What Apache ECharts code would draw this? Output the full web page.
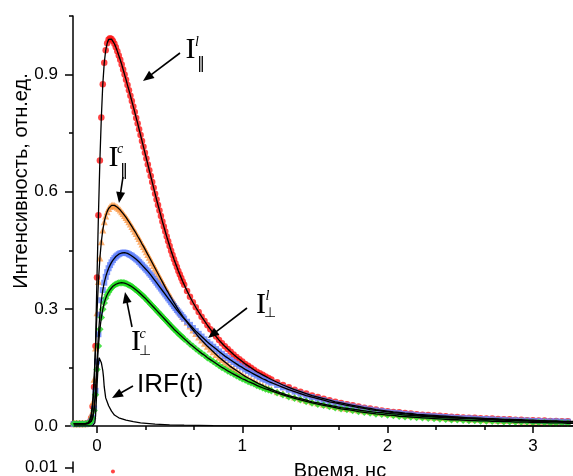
<!DOCTYPE html>
<html>
<head>
<meta charset="utf-8">
<script src="https://cdn.jsdelivr.net/npm/echarts@6/dist/echarts.min.js"></script>
<style>
  html, body { margin: 0; padding: 0; background: #fff; }
  #chart { width: 573px; height: 476px; }
</style>
</head>
<body>
<div id="chart"></div>
<script>
// Time channels, ns
const timeNs = [
  -0.16, -0.14, -0.12, -0.10, -0.08, -0.06,
  -0.05, -0.04, -0.03, -0.02, -0.01,
  0.00, 0.01, 0.02, 0.03, 0.04, 0.05, 0.06, 0.07, 0.08, 0.09,
  0.10, 0.11, 0.12, 0.13, 0.14, 0.15, 0.16, 0.17, 0.18, 0.19,
  0.20, 0.21, 0.22, 0.23, 0.24, 0.25, 0.26, 0.27, 0.28, 0.29,
  0.30, 0.31, 0.32, 0.33, 0.34, 0.35, 0.36, 0.37, 0.38, 0.39,
  0.40, 0.41, 0.42, 0.43, 0.44, 0.45, 0.46, 0.47, 0.48, 0.49,
  0.50, 0.51, 0.52, 0.53, 0.54, 0.55, 0.56, 0.57, 0.58, 0.59,
  0.60,
  0.62, 0.64, 0.66, 0.68, 0.70,
  0.72, 0.74, 0.76, 0.78, 0.80,
  0.82, 0.84, 0.86, 0.88, 0.90,
  0.92, 0.94, 0.96, 0.98, 1.00,
  1.02, 1.04, 1.06, 1.08, 1.10,
  1.12, 1.14, 1.16, 1.18, 1.20,
  1.24, 1.28, 1.32, 1.36, 1.40,
  1.44, 1.48, 1.52, 1.56, 1.60,
  1.64, 1.68, 1.72, 1.76, 1.80,
  1.84, 1.88, 1.92, 1.96, 2.00,
  2.04, 2.08, 2.12, 2.16, 2.20,
  2.24, 2.28, 2.32, 2.36, 2.40,
  2.44, 2.48, 2.52, 2.56, 2.60,
  2.64, 2.68, 2.72, 2.76, 2.80,
  2.84, 2.88, 2.92, 2.96, 3.00,
  3.04, 3.08, 3.12, 3.16, 3.20,
  3.24, 3.28, 3.32, 3.36, 3.40
];

// I parallel, linear (red circles)
const iParLin = [
  0.006, 0.006, 0.006, 0.006, 0.006, 0.007,
  0.010, 0.020, 0.050, 0.100, 0.205,
  0.380, 0.540, 0.680, 0.790, 0.875, 0.930, 0.962, 0.980, 0.990, 0.993,
  0.991, 0.986, 0.979, 0.970, 0.960, 0.949, 0.938, 0.926, 0.913, 0.900,
  0.887, 0.873, 0.860, 0.846, 0.832, 0.818, 0.804, 0.789, 0.775, 0.760,
  0.745, 0.730, 0.715, 0.700, 0.685, 0.670, 0.655, 0.640, 0.625, 0.610,
  0.595, 0.580, 0.566, 0.552, 0.538, 0.524, 0.511, 0.498, 0.485, 0.473,
  0.461, 0.449, 0.438, 0.427, 0.417, 0.407, 0.397, 0.388, 0.379, 0.370,
  0.362,
  0.346, 0.331, 0.317, 0.304, 0.292,
  0.280, 0.269, 0.258, 0.248, 0.238,
  0.229, 0.220, 0.212, 0.204, 0.197,
  0.190, 0.183, 0.177, 0.171, 0.165,
  0.159, 0.154, 0.149, 0.144, 0.139,
  0.135, 0.131, 0.127, 0.123, 0.119,
  0.112, 0.105, 0.099, 0.093, 0.088,
  0.083, 0.078, 0.074, 0.070, 0.066,
  0.062, 0.059, 0.056, 0.053, 0.050,
  0.047, 0.045, 0.042, 0.040, 0.038,
  0.036, 0.035, 0.033, 0.032, 0.030,
  0.029, 0.028, 0.027, 0.026, 0.025,
  0.024, 0.023, 0.022, 0.021, 0.021,
  0.020, 0.019, 0.019, 0.018, 0.017,
  0.017, 0.016, 0.016, 0.015, 0.015,
  0.014, 0.014, 0.013, 0.013, 0.012,
  0.012, 0.012, 0.011, 0.011, 0.011
];

// I parallel, circular (orange triangles)
const iParCirc = [
  0.006, 0.006, 0.006, 0.006, 0.006, 0.008,
  0.015, 0.030, 0.060, 0.120, 0.200,
  0.290, 0.370, 0.430, 0.472, 0.502, 0.523, 0.538, 0.549, 0.557, 0.562,
  0.565, 0.566, 0.565, 0.563, 0.560, 0.557, 0.553, 0.549, 0.544, 0.539,
  0.534, 0.529, 0.523, 0.517, 0.511, 0.505, 0.499, 0.493, 0.486, 0.480,
  0.473, 0.466, 0.460, 0.453, 0.446, 0.439, 0.432, 0.425, 0.418, 0.411,
  0.404, 0.397, 0.390, 0.383, 0.376, 0.369, 0.362, 0.355, 0.348, 0.342,
  0.335, 0.329, 0.322, 0.316, 0.310, 0.304, 0.298, 0.292, 0.287, 0.281,
  0.276,
  0.266, 0.256, 0.246, 0.237, 0.228,
  0.220, 0.212, 0.204, 0.197, 0.190,
  0.183, 0.176, 0.170, 0.164, 0.158,
  0.152, 0.147, 0.142, 0.137, 0.132,
  0.127, 0.123, 0.119, 0.115, 0.111,
  0.107, 0.104, 0.100, 0.097, 0.094,
  0.088, 0.083, 0.078, 0.074, 0.070,
  0.066, 0.062, 0.059, 0.056, 0.053,
  0.050, 0.047, 0.045, 0.043, 0.041,
  0.039, 0.037, 0.035, 0.034, 0.032,
  0.031, 0.030, 0.028, 0.027, 0.026,
  0.025, 0.024, 0.023, 0.022, 0.021,
  0.020, 0.020, 0.019, 0.018, 0.018,
  0.017, 0.016, 0.016, 0.015, 0.015,
  0.014, 0.014, 0.013, 0.013, 0.012,
  0.012, 0.011, 0.011, 0.011, 0.010,
  0.010, 0.010, 0.009, 0.009, 0.009
];

// I perpendicular, linear (blue squares)
const iPerpLin = [
  0.005, 0.005, 0.005, 0.005, 0.005, 0.006,
  0.008, 0.012, 0.022, 0.045, 0.090,
  0.165, 0.235, 0.285, 0.322, 0.348, 0.367, 0.382, 0.394, 0.404, 0.412,
  0.419, 0.425, 0.430, 0.434, 0.437, 0.440, 0.442, 0.443, 0.444, 0.444,
  0.443, 0.442, 0.440, 0.438, 0.436, 0.433, 0.430, 0.427, 0.424, 0.420,
  0.416, 0.412, 0.408, 0.404, 0.400, 0.396, 0.391, 0.387, 0.382, 0.377,
  0.372, 0.367, 0.362, 0.357, 0.352, 0.347, 0.342, 0.337, 0.332, 0.327,
  0.322, 0.317, 0.312, 0.307, 0.302, 0.297, 0.293, 0.288, 0.284, 0.279,
  0.275,
  0.267, 0.259, 0.251, 0.243, 0.236,
  0.229, 0.222, 0.215, 0.209, 0.203,
  0.197, 0.191, 0.185, 0.179, 0.174,
  0.169, 0.164, 0.159, 0.154, 0.150,
  0.145, 0.141, 0.137, 0.133, 0.129,
  0.125, 0.121, 0.118, 0.114, 0.111,
  0.105, 0.099, 0.093, 0.088, 0.083,
  0.078, 0.074, 0.070, 0.066, 0.062,
  0.059, 0.056, 0.053, 0.050, 0.047,
  0.045, 0.042, 0.040, 0.038, 0.036,
  0.034, 0.033, 0.031, 0.030, 0.028,
  0.027, 0.026, 0.025, 0.024, 0.023,
  0.022, 0.021, 0.020, 0.020, 0.019,
  0.018, 0.018, 0.017, 0.016, 0.016,
  0.015, 0.015, 0.014, 0.014, 0.013,
  0.013, 0.012, 0.012, 0.012, 0.011,
  0.011, 0.011, 0.010, 0.010, 0.010
];

// I perpendicular, circular (green diamonds)
const iPerpCirc = [
  0.006, 0.006, 0.006, 0.006, 0.006, 0.007,
  0.008, 0.012, 0.020, 0.040, 0.080,
  0.145, 0.205, 0.248, 0.278, 0.299, 0.315, 0.327, 0.336, 0.343, 0.349,
  0.354, 0.358, 0.361, 0.363, 0.365, 0.366, 0.367, 0.367, 0.367, 0.366,
  0.365, 0.363, 0.361, 0.359, 0.357, 0.354, 0.351, 0.348, 0.345, 0.342,
  0.339, 0.335, 0.332, 0.328, 0.324, 0.320, 0.316, 0.312, 0.308, 0.304,
  0.300, 0.296, 0.292, 0.288, 0.284, 0.280, 0.276, 0.272, 0.268, 0.264,
  0.260, 0.256, 0.252, 0.248, 0.245, 0.241, 0.237, 0.234, 0.230, 0.227,
  0.223,
  0.217, 0.210, 0.204, 0.198, 0.192,
  0.186, 0.181, 0.175, 0.170, 0.165,
  0.160, 0.155, 0.150, 0.146, 0.141,
  0.137, 0.133, 0.129, 0.125, 0.121,
  0.118, 0.114, 0.111, 0.108, 0.104,
  0.101, 0.098, 0.095, 0.093, 0.090,
  0.085, 0.080, 0.075, 0.071, 0.067,
  0.063, 0.059, 0.056, 0.053, 0.050,
  0.047, 0.044, 0.042, 0.040, 0.037,
  0.035, 0.033, 0.031, 0.030, 0.028,
  0.027, 0.025, 0.024, 0.023, 0.022,
  0.021, 0.020, 0.019, 0.018, 0.017,
  0.016, 0.016, 0.015, 0.014, 0.014,
  0.013, 0.013, 0.012, 0.012, 0.011,
  0.011, 0.010, 0.010, 0.010, 0.009,
  0.009, 0.009, 0.008, 0.008, 0.008,
  0.007, 0.007, 0.007, 0.007, 0.006
];

// Instrument response function
const irfTime = [
  -0.16, -0.05, -0.03, -0.02, -0.015, -0.01, -0.005, 0.00, 0.005, 0.01,
  0.015, 0.02, 0.025, 0.03, 0.035, 0.04, 0.045, 0.05, 0.06, 0.07,
  0.08, 0.10, 0.12, 0.15, 0.20, 0.25, 0.30, 0.40, 0.50, 0.60,
  0.80, 1.00, 1.50, 3.40
];
const irfValue = [
  0, 0, 0.001, 0.003, 0.008, 0.025, 0.060, 0.100, 0.135, 0.160,
  0.175, 0.178, 0.172, 0.162, 0.152, 0.142, 0.125, 0.100, 0.072, 0.062,
  0.052, 0.038, 0.028, 0.021, 0.015, 0.011, 0.008, 0.005, 0.003, 0.002,
  0.001, 0.0005, 0, 0
];

// Lower (residual) panel
const residTime = [0.11];
const residValue = [0.0058];

// Axis ticks
const xTicks = [0, 1, 2, 3];
const xMinorTicks = [0.3333, 0.6667, 1.3333, 1.6667, 2.3333, 2.6667];
const yTicks = [0, 0.3, 0.6, 0.9];
const yMinorTicks = [0.15, 0.45, 0.75, 1.05];
const residTicks = [0.01];

const X_MIN = -0.165, X_MAX = 3.276;
const SANS = "'Liberation Sans', Arial, sans-serif";
const SERIF = "'Liberation Serif', 'Times New Roman', serif";

const pairs = (xs, ys) => xs.map((x, i) => [x, ys[i]]);

const chart = echarts.init(document.getElementById('chart'), null, { renderer: 'canvas' });

const scatter = (name, vals, symbol, size, color) => ({
  name, type: 'scatter', xAxisIndex: 0, yAxisIndex: 0,
  data: pairs(timeNs, vals), symbol, symbolSize: size,
  itemStyle: { color }, z: 2, silent: true
});
const fit = (name, xs, vals) => ({
  name, type: 'line', xAxisIndex: 0, yAxisIndex: 0,
  data: pairs(xs, vals), showSymbol: false, symbol: 'none',
  lineStyle: { color: '#000', width: 1.3 }, z: 4, silent: true
});

const axisLineStyle = { color: '#000', width: 1.5 };
const hiddenLine = { color: 'rgba(0,0,0,0)', width: 1 };
const mainGrid = { left: 73, top: 16, width: 500, height: 410 };

chart.setOption({
  animation: false,
  backgroundColor: '#fff',
  grid: [
    mainGrid,
    { left: 73, top: 462, width: 500, height: 14 },
    // same rectangle as the main plot, carries the minor ticks
    Object.assign({}, mainGrid)
  ],
  xAxis: [
    {
      type: 'value', gridIndex: 0, min: X_MIN, max: X_MAX, position: 'bottom',
      axisLine: { show: true, onZero: false, lineStyle: axisLineStyle },
      axisTick: { show: true, inside: false, length: 7, customValues: xTicks, lineStyle: axisLineStyle },
      axisLabel: { show: true, customValues: xTicks, margin: 12, color: '#000', fontSize: 17, fontFamily: SANS,
                   formatter: v => String(Math.round(v)) },
      splitLine: { show: false }
    },
    { type: 'value', gridIndex: 1, min: X_MIN, max: X_MAX, show: false },
    {
      type: 'value', gridIndex: 2, min: X_MIN, max: X_MAX, position: 'bottom',
      axisLine: { show: true, onZero: false, lineStyle: hiddenLine },
      axisTick: { show: true, inside: false, length: 4, customValues: xMinorTicks, lineStyle: axisLineStyle },
      axisLabel: { show: false },
      splitLine: { show: false }
    }
  ],
  yAxis: [
    {
      type: 'value', gridIndex: 0, min: 0, max: 1.05, position: 'left',
      axisLine: { show: true, onZero: false, lineStyle: axisLineStyle },
      axisTick: { show: true, inside: false, length: 8, customValues: yTicks, lineStyle: axisLineStyle },
      axisLabel: { show: true, customValues: yTicks, margin: 15, color: '#000', fontSize: 17, fontFamily: SANS,
                   formatter: v => v.toFixed(1) },
      splitLine: { show: false }
    },
    {
      type: 'value', gridIndex: 1, min: 0.005, max: 0.0158, position: 'left',
      axisLine: { show: true, onZero: false, lineStyle: axisLineStyle },
      axisTick: { show: true, inside: false, length: 8, customValues: residTicks, lineStyle: axisLineStyle },
      axisLabel: { show: true, customValues: residTicks, margin: 15, color: '#000', fontSize: 17, fontFamily: SANS,
                   formatter: v => v.toFixed(2) },
      splitLine: { show: false }
    },
    {
      type: 'value', gridIndex: 2, min: 0, max: 1.05, position: 'left',
      axisLine: { show: true, onZero: false, lineStyle: hiddenLine },
      axisTick: { show: true, inside: false, length: 4, customValues: yMinorTicks, lineStyle: axisLineStyle },
      axisLabel: { show: false },
      splitLine: { show: false }
    }
  ],
  series: [
    scatter('I∥ l', iParLin, 'circle', 6.5, '#ff1414'),
    scatter('I∥ c', iParCirc, 'triangle', 7, '#fb9b4a'),
    scatter('I⊥ l', iPerpLin, 'rect', 6, '#5f7ffb'),
    scatter('I⊥ c', iPerpCirc, 'diamond', 7.5, '#22dc22'),
    fit('fit I∥ l', timeNs, iParLin),
    fit('fit I∥ c', timeNs, iParCirc),
    fit('fit I⊥ l', timeNs, iPerpLin),
    fit('fit I⊥ c', timeNs, iPerpCirc),
    fit('IRF', irfTime, irfValue),
    {
      name: 'residual', type: 'scatter', xAxisIndex: 1, yAxisIndex: 1,
      data: pairs(residTime, residValue), symbol: 'circle', symbolSize: 4,
      itemStyle: { color: '#ff1414' }, silent: true, clip: false
    }
  ]
});

// Annotations: labels and arrows
function arrow(x1, y1, x2, y2) {
  const dx = x2 - x1, dy = y2 - y1;
  const len = Math.hypot(dx, dy);
  const ux = dx / len, uy = dy / len;
  const headLen = 11, halfW = 4.5;
  const bx = x2 - ux * headLen, by = y2 - uy * headLen;
  const px = -uy, py = ux;
  return [
    { type: 'line', silent: true, z: 10,
      shape: { x1, y1, x2: bx + ux, y2: by + uy },
      style: { stroke: '#000', lineWidth: 1.6 } },
    { type: 'polygon', silent: true, z: 10,
      shape: { points: [[x2, y2], [bx + px * halfW, by + py * halfW], [bx - px * halfW, by - py * halfW]] },
      style: { fill: '#000' } }
  ];
}

function txt(text, x, y, font, opts) {
  return {
    type: 'text', x, y, silent: true, z: 10,
    style: Object.assign({ text, fill: '#000', align: 'center', verticalAlign: 'middle', font }, (opts || {}))
  };
}

function polLabel(x, y, sup, sub) {
  const I = txt('I', x, y, `30px ${SERIF}`);
  const s = txt(sup, x + 6.5, y - 8.5, `italic 14px ${SERIF}`);
  const b = sub === '‖'
    ? txt(sub, x + 10.5, y + 13, `16px 'DejaVu Sans', sans-serif`)
    : txt(sub, x + 9, y + 8.5, `14px 'DejaVu Sans', sans-serif`);
  return [I, s, b];
}

const graphics = [].concat(
  polLabel(190.5, 50.5, 'l', '‖'),
  arrow(180, 53, 143, 81),
  polLabel(113.5, 158, 'c', '‖'),
  arrow(123, 177, 119, 203),
  polLabel(261, 305, 'l', '⊥'),
  arrow(247, 308, 208, 338),
  polLabel(136, 342.5, 'c', '⊥'),
  arrow(132, 327, 125, 292),
  [txt('IRF(t)', 137, 385, `26px ${SANS}`, { align: 'left' })],
  arrow(133, 386, 112, 398),
  [txt('Время, нс', 340, 471, `20px ${SANS}`)],
  [Object.assign(txt('Интенсивность, отн.ед.', 21, 181, `20px ${SANS}`), { rotation: Math.PI / 2 })]
);

chart.setOption({ graphic: graphics });
</script>
</body>
</html>
